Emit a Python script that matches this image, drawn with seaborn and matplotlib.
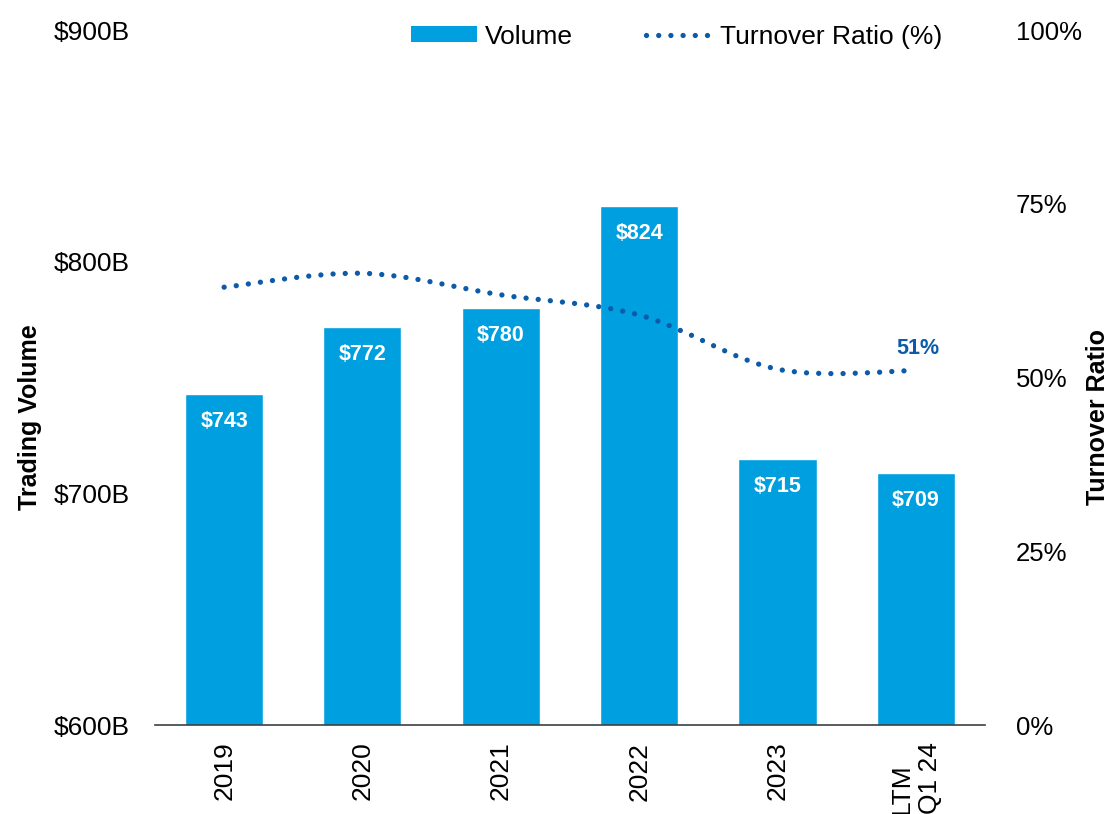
import numpy as np
import matplotlib
matplotlib.use("Agg")
import matplotlib.pyplot as plt
from matplotlib.path import Path
from matplotlib.patches import PathPatch, Patch
from matplotlib.lines import Line2D
import seaborn as sns

# data
categories = ["2019", "2020", "2021", "2022", "2023", "LTM\nQ1 24"]
volume = [743, 772, 780, 824, 715, 709]          # $B
turnover = [63.0, 65.0, 61.9, 59.0, 51.2, 51.0]  # %
volume_ticks = [600, 700, 800, 900]
ratio_ticks = [0, 25, 50, 75, 100]

bar_color = "#009FE0"
line_color = "#0B5BAA"

sns.set_style("white")
plt.rcParams["font.family"] = ["Liberation Sans", "DejaVu Sans"]
plt.rcParams["text.color"] = "black"
plt.rcParams["xtick.color"] = "black"
plt.rcParams["ytick.color"] = "black"
plt.rcParams["axes.labelcolor"] = "black"

fig, ax = plt.subplots(figsize=(11.1, 8.14), dpi=100)
fig.subplots_adjust(left=0.1396, right=0.8874, top=0.9631, bottom=0.1093)

sns.barplot(x=categories, y=volume, color=bar_color, width=0.564, saturation=1, ax=ax)
ax.set_xlim(-0.5, len(categories) - 0.5)
ax.set_ylim(600, 900)
ax.set_yticks(volume_ticks)
ax.set_yticklabels([f"${v}B" for v in volume_ticks])
ax.tick_params(axis="y", length=0, pad=18, labelsize=19)
ax.tick_params(axis="x", length=0, pad=12, labelsize=19, labelrotation=90)
for lab in ax.get_xticklabels():
    lab.set_va("top")
    lab.set_ha("center")
    lab.set_multialignment("left")
ax.set_xlabel("")
ax.set_ylabel("Trading Volume", fontsize=18, fontweight="bold", va="center")
ax.yaxis.set_label_coords(-0.1506, 0.443)
for s in ["top", "left", "right"]:
    ax.spines[s].set_visible(False)
ax.spines["bottom"].set_color("#404040")
ax.spines["bottom"].set_linewidth(1.2)

# value labels inside the bars
for i, v in enumerate(volume):
    ax.annotate(f"${v}", (i, v), xytext=(0, -20), textcoords="offset points",
                ha="center", va="center", color="white", fontsize=15.5, fontweight="bold")

# turnover ratio on a second axis, smoothed line
ax2 = ax.twinx()
ax2.set_ylim(0, 100)
ax2.set_yticks(ratio_ticks)
ax2.set_yticklabels([f"{t}%" for t in ratio_ticks])
ax2.tick_params(axis="y", length=0, pad=22, labelsize=18.5)
for s in ax2.spines.values():
    s.set_visible(False)
ax2.set_ylabel("Turnover Ratio", fontsize=18, fontweight="bold", rotation=90, va="center")
ax2.yaxis.set_label_coords(1.136, 0.443)

xs = np.arange(len(turnover), dtype=float)
pts = np.column_stack([xs, turnover])
verts = [pts[0]]
codes = [Path.MOVETO]
n = len(pts)
for i in range(n - 1):
    p0 = pts[max(i - 1, 0)]
    p1 = pts[i]
    p2 = pts[i + 1]
    p3 = pts[min(i + 2, n - 1)]
    verts += [p1 + (p2 - p0) / 6, p2 - (p3 - p1) / 6, p2]
    codes += [Path.CURVE4] * 3
patch = PathPatch(Path(verts, codes), facecolor="none", edgecolor=line_color,
                  lw=3.8, linestyle=(0, (0.01, 2.3)), capstyle="round")
ax2.add_patch(patch)

ax2.annotate(f"{turnover[-1]:.0f}%", (xs[-1], turnover[-1]), xytext=(1.5, 16),
             textcoords="offset points", ha="center", va="center",
             color=line_color, fontsize=15.5, fontweight="bold")

handles = [Patch(facecolor=bar_color, edgecolor="none"),
           Line2D([0], [0], color=line_color, lw=3.8, linestyle=(0, (0.01, 2.3)),
                  dash_capstyle="round")]
fig.legend(handles, ["Volume", "Turnover Ratio (%)"], loc="center",
           bbox_to_anchor=(0.6095, 0.955), ncol=2, frameon=False, fontsize=19,
           handlelength=2.5, handleheight=0.55, handletextpad=0.3, columnspacing=2.8)

fig.savefig("out.png", dpi=100)
